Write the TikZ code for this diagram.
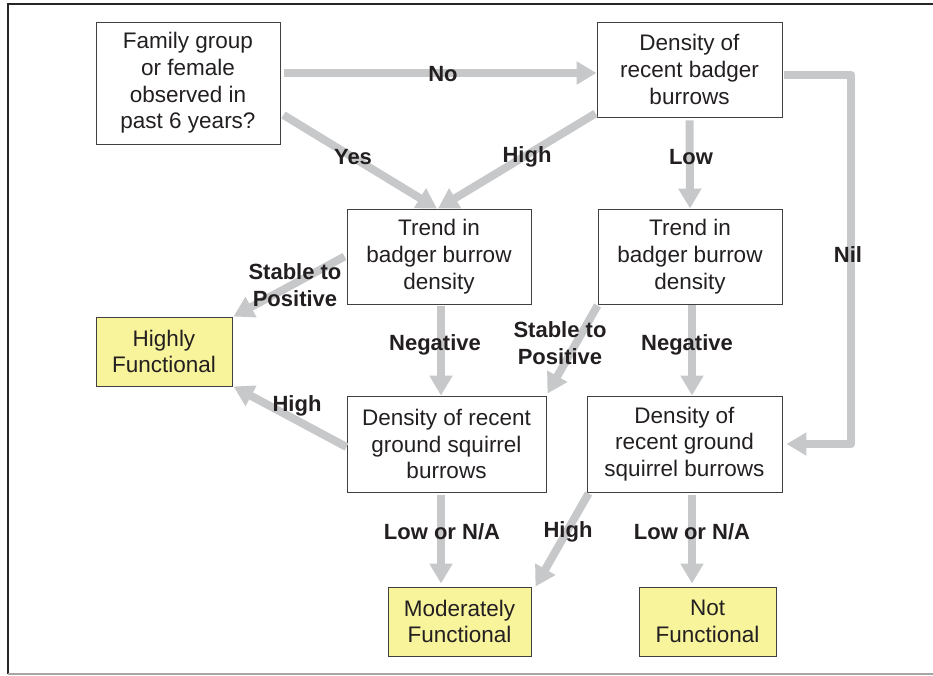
\documentclass[tikz,border=0pt]{standalone}
\usepackage{fontspec}
\setmainfont{Liberation Sans}
\usetikzlibrary{arrows.meta}

\definecolor{arrowgray}{HTML}{C7C8CA}
\definecolor{boxyellow}{HTML}{F8F49C}
\definecolor{inkgray}{HTML}{231F20}

\begin{document}
\begin{tikzpicture}[x=1pt, y=-1pt,
  box/.style={draw=black!75, line width=0.9pt, text=inkgray, align=center, inner sep=0pt,
    font=\fontsize{22.5}{26.7}\selectfont},
  result/.style={box, fill=boxyellow},
  flow/.style={draw=arrowgray, line width=8pt, line join=round, -{Triangle[width=22pt,length=20pt]}},
  lbl/.style={text=inkgray, align=center, font=\fontsize{22}{26.7}\selectfont\bfseries}]

\useasboundingbox (0,0) rectangle (933,675);
\draw[black!85, line width=1.2pt] (933,4) -- (8,4) -- (8,674);
\draw[black!35, line width=1.2pt] (8,674) -- (933,674);

% questions
\node[box, minimum width=184pt, minimum height=122pt] (family) at (188,83) {Family group\\or female\\observed in\\past 6 years?};
\node[box, minimum width=185pt, minimum height=95pt] (badger) at (689.5,69.5) {Density of\\recent badger\\burrows};
\node[box, minimum width=184pt, minimum height=95pt] (trendL) at (439,256.5) {Trend in\\badger burrow\\density};
\node[box, minimum width=184pt, minimum height=95pt] (trendR) at (690,256.5) {Trend in\\badger burrow\\density};
\node[box, minimum width=199pt, minimum height=96pt] (squirL) at (446.5,444) {Density of recent\\ground squirrel\\burrows};
\node[box, minimum width=195pt, minimum height=96pt] (squirR) at (684.5,444) {Density of\\recent ground\\squirrel burrows};

% results
\node[result, minimum width=136pt, minimum height=69pt] (highly) at (164,351.5) {Highly\\Functional};
\node[result, minimum width=143pt, minimum height=69pt] (moder) at (459.5,621.5) {Moderately\\Functional};
\node[result, minimum width=137pt, minimum height=69pt] (notf) at (707.5,621.5) {Not\\Functional};

% arrows
\draw[flow] ([xshift=4pt,yshift=10pt]family.east) -- ([yshift=-3.5pt]badger.west);
\draw[flow] ([xshift=3pt,yshift=-32pt]family.east) -- ([xshift=-2pt]trendL.north);
\draw[flow] ([xshift=-1pt,yshift=4pt]badger.south west) -- ([xshift=-1pt]trendL.north);
\draw[flow] ([yshift=-3pt]badger.south) -- (trendR.north);
\draw[flow] ([xshift=2pt,yshift=-5.5pt]badger.east) -- ++(67,0) |- ([xshift=4pt]squirR.east);
\draw[flow] ([xshift=-2pt]trendL.west) -- ([xshift=1pt]highly.north east);
\draw[flow] ([yshift=-3pt]squirL.west) -- ([xshift=1pt]highly.south east);
\draw[flow] ([xshift=2pt,yshift=-2pt]trendL.south) -- ([xshift=-5.5pt]squirL.north);
\draw[flow] ([yshift=-1pt]trendR.south west) -- ([xshift=1pt,yshift=2pt]squirL.north east);
\draw[flow] ([xshift=2pt,yshift=-1pt]trendR.south) -- ([xshift=7.5pt]squirR.north);
\draw[flow] ([xshift=-5.5pt,yshift=-3pt]squirL.south) -- ([xshift=-18.5pt,yshift=3pt]moder.north);
\draw[flow] ([xshift=2pt,yshift=-1pt]squirR.south west) -- ([xshift=4pt]moder.north east);
\draw[flow] ([xshift=7.5pt,yshift=-3pt]squirR.south) -- ([xshift=-15.5pt,yshift=3pt]notf.north);

% labels
\node[lbl] (lblNo) at (443,74) {No};
\node[lbl] (lblYes) at (353,157) {Yes};
\node[lbl] (lblHighTop) at (527,157) {High};
\node[lbl] (lblLow) at (691,157) {Low};
\node[lbl] (lblNil) at (848,255) {Nil};
\node[lbl] (lblStableL) at (295,285) {Stable to\\Positive};
\node[lbl] (lblHighL) at (297,406) {High};
\node[lbl] (lblNegL) at (435,345) {Negative};
\node[lbl] (lblStableR) at (560,343) {Stable to\\Positive};
\node[lbl] (lblNegR) at (687,345) {Negative};
\node[lbl] (lblLowNAL) at (442,532) {Low or N/A};
\node[lbl] (lblHighR) at (568,532) {High};
\node[lbl] (lblLowNAR) at (692,532) {Low or N/A};

\end{tikzpicture}
\end{document}
